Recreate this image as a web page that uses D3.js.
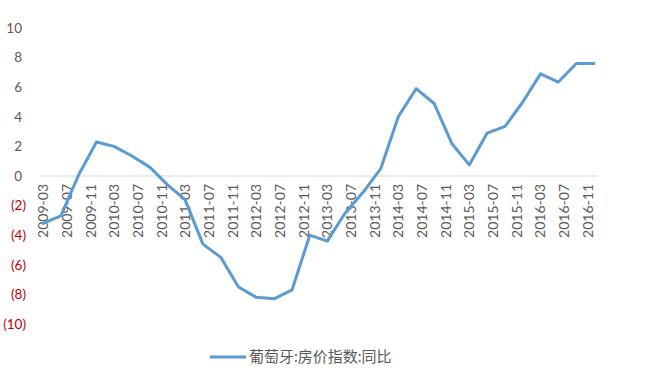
<!DOCTYPE html>
<html>
<head>
<meta charset="utf-8">
<script src="https://cdn.jsdelivr.net/npm/d3@7"></script>
<style>
  body { margin: 0; background: #fff; }
  text { font-family: Lato, "Open Sans", "Noto Sans CJK SC", sans-serif; }
</style>
</head>
<body>
<svg id="chart" width="659" height="381"></svg>
<script>
// quarterly observations
var quarters = [
  "2009-03","2009-06","2009-09","2009-12",
  "2010-03","2010-06","2010-09","2010-12",
  "2011-03","2011-06","2011-09","2011-12",
  "2012-03","2012-06","2012-09","2012-12",
  "2013-03","2013-06","2013-09","2013-12",
  "2014-03","2014-06","2014-09","2014-12",
  "2015-03","2015-06","2015-09","2015-12",
  "2016-03","2016-06","2016-09","2016-12"
];
var values = [
  -3.2, -2.7, 0.1, 2.3,
  2.0, 1.35, 0.6, -0.6,
  -1.6, -4.6, -5.5, -7.5,
  -8.2, -8.3, -7.7, -4.0,
  -4.4, -2.5, -1.1, 0.5,
  4.0, 5.9, 4.9, 2.2,
  0.75, 2.9, 3.35, 5.0,
  6.9, 6.35, 7.6, 7.6
];
var tickLabels = [
  "2009-03","2009-07","2009-11","2010-03","2010-07","2010-11",
  "2011-03","2011-07","2011-11","2012-03","2012-07","2012-11",
  "2013-03","2013-07","2013-11","2014-03","2014-07","2014-11",
  "2015-03","2015-07","2015-11","2016-03","2016-07","2016-11"
];
var yTicks = [10, 8, 6, 4, 2, 0, -2, -4, -6, -8, -10];
var seriesName = "葡萄牙:房价指数:同比";

var parseMonth = d3.utcParse("%Y-%m");
var data = quarters.map(function (q, i) {
  return { date: parseMonth(q), value: values[i] };
});

var svg = d3.select("#chart");

// set the ranges
var x = d3.scaleUtc()
  .domain([parseMonth("2009-03"), parseMonth("2016-12")])
  .range([43, 594]);
var y = d3.scaleLinear().domain([-10, 10]).range([324, 28]);

// y labels, negatives in red with brackets
svg.append("g").selectAll("text")
  .data(yTicks)
  .enter().append("text")
  .attr("x", function (d) { return d < 0 ? 26 : 22; })
  .attr("y", function (d) { return y(d); })
  .attr("dy", "0.35em")
  .attr("text-anchor", "end")
  .style("font-size", "13.5px")
  .style("fill", function (d) { return d < 0 ? "#c00000" : "#595959"; })
  .text(function (d) { return d < 0 ? "(" + Math.abs(d) + ")" : d; });

// zero axis line
svg.append("line")
  .attr("x1", 40).attr("x2", 598)
  .attr("y1", y(0)).attr("y2", y(0))
  .style("stroke", "#d9d9d9")
  .style("stroke-width", 1);

// x labels, rotated
svg.append("g").selectAll("text")
  .data(tickLabels)
  .enter().append("text")
  .attr("transform", function (d) {
    return "translate(" + x(parseMonth(d)) + "," + (y(0) + 8) + ") rotate(-90)";
  })
  .attr("dy", "0.35em")
  .attr("text-anchor", "end")
  .style("font-size", "14px")
  .style("fill", "#595959")
  .text(function (d) { return d; });

// the series line
var valueline = d3.line()
  .x(function (d) { return x(d.date); })
  .y(function (d) { return y(d.value); });

svg.append("path")
  .datum(data)
  .attr("d", valueline)
  .style("fill", "none")
  .style("stroke", "#5b9bd5")
  .style("stroke-width", 3)
  .style("stroke-linejoin", "round")
  .style("stroke-linecap", "round");

// legend
var legend = svg.append("g").attr("transform", "translate(210,357)");
legend.append("line")
  .attr("x1", 0).attr("x2", 36)
  .style("stroke", "#5b9bd5")
  .style("stroke-width", 3);
legend.append("text")
  .attr("x", 39)
  .attr("dy", "0.35em")
  .style("font-size", "15px")
  .style("fill", "#595959")
  .text(seriesName);
</script>
</body>
</html>
